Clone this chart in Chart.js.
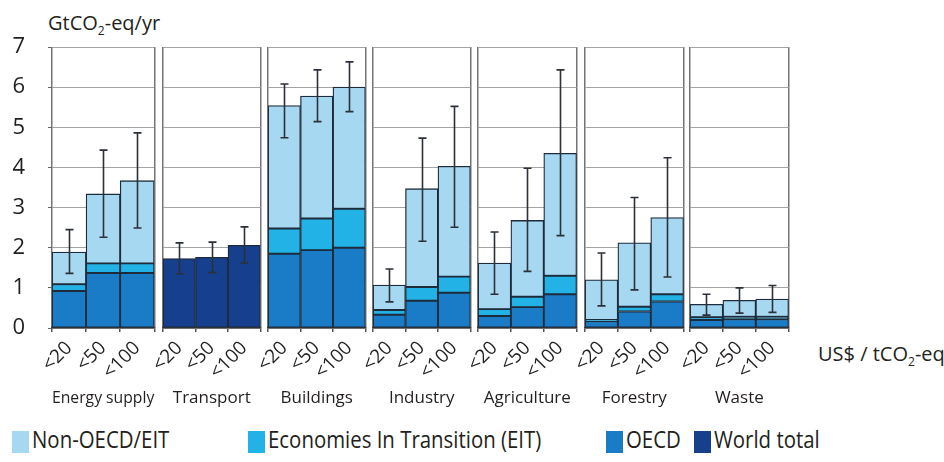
<!DOCTYPE html>
<html>
<head>
<meta charset="utf-8">
<title>Sectoral mitigation potential by carbon price</title>
<script src="https://cdn.jsdelivr.net/npm/chart.js@4.4.1/dist/chart.umd.min.js"></script>
<style>
  html, body { margin: 0; padding: 0; background: #ffffff; }
  #wrap { position: relative; width: 944px; height: 462px; overflow: hidden;
          font-family: "Open Sans", "Noto Sans", sans-serif; color: #231f20; }
  .panel { position: absolute; top: 0; }
  .unit { position: absolute; font-size: 20px; line-height: 1; white-space: nowrap; }
  .unit sub { font-size: 12px; vertical-align: -5px; line-height: 0; }
  #legend { position: absolute; left: 0; top: 430px; width: 944px; height: 32px; }
  .lg { position: absolute; top: 0; white-space: nowrap; }
  .lg i { position: absolute; left: 0; top: 1px; width: 17px; height: 22px; }
  .lg span { position: absolute; top: -5px; font-size: 24px; line-height: 1.2;
             transform-origin: 0 50%; transform: scaleX(0.85); }
</style>
</head>
<body>
<div id="wrap">
  <div class="unit" style="left:48px; top:13px;">GtCO<sub>2</sub>-eq/yr</div>
  <div class="unit" style="left:818px; top:344px;">US$ / tCO<sub>2</sub>-eq</div>
  <div id="legend"></div>
</div>
<script>
// Sectors and carbon-price bands (US$/tCO2-eq)
const sectors = ['Energy supply', 'Transport', 'Buildings', 'Industry', 'Agriculture', 'Forestry', 'Waste'];
const priceBands = ['<20', '<50', '<100'];

// Economic mitigation potential in 2030, GtCO2-eq/yr (stacked segments per region)
const oecd    = [[0.92, 1.37, 1.37], null, [1.85, 1.94, 2.00], [0.33, 0.68, 0.88], [0.30, 0.52, 0.84], [0.17, 0.41, 0.66], [0.20, 0.22, 0.22]];
const eit     = [[0.17, 0.24, 0.24], null, [0.63, 0.79, 0.97], [0.12, 0.34, 0.40], [0.17, 0.26, 0.46], [0.03, 0.12, 0.18], [0.07, 0.06, 0.06]];
const nonOecd = [[0.80, 1.73, 2.06], null, [3.06, 3.05, 3.03], [0.62, 2.45, 2.75], [1.15, 1.90, 3.05], [1.00, 1.59, 1.91], [0.32, 0.41, 0.44]];
// Transport is only available as a world total
const worldTotal = [null, [1.73, 1.76, 2.06], null, null, null, null, null];

// Uncertainty ranges (low / high) per sector and price band
const rangeLow  = [[1.36, 2.26, 2.49], [1.35, 1.38, 1.62], [4.74, 5.14, 5.39], [0.65, 2.16, 2.51], [0.84, 1.41, 2.30], [0.55, 0.95, 1.27], [0.32, 0.37, 0.39]];
const rangeHigh = [[2.45, 4.43, 4.86], [2.12, 2.14, 2.52], [6.08, 6.43, 6.63], [1.47, 4.73, 5.52], [2.39, 3.98, 6.43], [1.87, 3.25, 4.24], [0.84, 1.00, 1.06]];

// Y-axis range and ticks
const yMin = 0, yMax = 7, yStep = 1;

// Colours
const COLORS = {
  nonOecd: '#a7d8f1',
  eit: '#22b2e6',
  oecd: '#1a7bc7',
  world: '#163f8e'
};
const seriesNames = { nonOecd: 'Non-OECD/EIT', eit: 'Economies In Transition (EIT)', oecd: 'OECD', world: 'World total' };
const TEXT = '#231f20';
const GRID = '#a4a4a4';
const FRAME = '#747474';
const OUTLINE = '#1d2b3a';
const FONT = '"Open Sans", "Noto Sans", sans-serif';

// Panel geometry (pixels)
const PANEL_LEFT = [52, 163, 268, 373, 478, 585, 690];
const PANEL_W    = [103, 99, 99, 99, 100, 100, 100];
const PLOT_TOP = 47, PLOT_BOTTOM = 328, CANVAS_H = 430, XAXIS_H = 80;
const LEFT_ROOM = 30, RIGHT_ROOM = 4, Y_AXIS_W = 52;

// Draws the uncertainty whiskers on top of each stacked bar
function makeErrorBars(low, high) {
  return {
    id: 'errorBars',
    afterDatasetsDraw(chart) {
      const { ctx, scales: { x, y } } = chart;
      ctx.save();
      ctx.strokeStyle = '#2b3138';
      ctx.lineWidth = 1.6;
      low.forEach((lo, i) => {
        const px = Math.round(x.getPixelForValue(i)) + 0.5;
        const yl = y.getPixelForValue(lo);
        const yh = y.getPixelForValue(high[i]);
        ctx.beginPath();
        ctx.moveTo(px, yl); ctx.lineTo(px, yh);
        ctx.moveTo(px - 4, yl); ctx.lineTo(px + 4, yl);
        ctx.moveTo(px - 4, yh); ctx.lineTo(px + 4, yh);
        ctx.stroke();
      });
      ctx.restore();
    }
  };
}

function barDataset(label, data, color) {
  return {
    label, data,
    backgroundColor: color,
    borderColor: OUTLINE,
    borderWidth: 1.3,
    borderSkipped: false,
    barPercentage: 1,
    categoryPercentage: 1
  };
}

const wrap = document.getElementById('wrap');

sectors.forEach((sector, s) => {
  const first = s === 0;
  const left = first ? 0 : PANEL_LEFT[s] - LEFT_ROOM;
  const width = first ? Y_AXIS_W + PANEL_W[s] + RIGHT_ROOM : LEFT_ROOM + PANEL_W[s] + RIGHT_ROOM;

  const canvas = document.createElement('canvas');
  canvas.className = 'panel';
  canvas.style.left = left + 'px';
  canvas.style.width = width + 'px';
  canvas.style.height = CANVAS_H + 'px';
  canvas.width = width;
  canvas.height = CANVAS_H;
  wrap.appendChild(canvas);

  const datasets = worldTotal[s]
    ? [barDataset(seriesNames.world, worldTotal[s], COLORS.world)]
    : [barDataset(seriesNames.oecd, oecd[s], COLORS.oecd),
       barDataset(seriesNames.eit, eit[s], COLORS.eit),
       barDataset(seriesNames.nonOecd, nonOecd[s], COLORS.nonOecd)];

  new Chart(canvas, {
    type: 'bar',
    data: { labels: priceBands, datasets },
    plugins: [makeErrorBars(rangeLow[s], rangeHigh[s])],
    options: {
      responsive: false,
      animation: false,
      events: [],
      layout: {
        padding: {
          left: first ? 0 : LEFT_ROOM,
          right: RIGHT_ROOM,
          top: PLOT_TOP,
          bottom: CANVAS_H - PLOT_BOTTOM - XAXIS_H
        }
      },
      plugins: { legend: { display: false }, tooltip: { enabled: false } },
      scales: {
        x: {
          stacked: true,
          offset: true,
          grid: {
            offset: true,
            drawOnChartArea: true,
            drawTicks: true,
            tickLength: 4,
            lineWidth: 1.5,
            color: c => (c.type !== 'tick' || c.index === 0) ? FRAME : 'rgba(0,0,0,0)',
            tickColor: '#555555'
          },
          border: { display: true, color: '#3a3a3a', width: 1.5 },
          ticks: {
            autoSkip: false, minRotation: 45, maxRotation: 45, padding: 5,
            color: TEXT, font: { family: FONT, size: 19 }
          },
          title: {
            display: true, text: sector, color: TEXT,
            font: { family: FONT, size: 17 }, padding: { top: 0, bottom: 0 }
          },
          afterFit: sc => { sc.height = XAXIS_H; }
        },
        y: {
          stacked: true,
          min: yMin, max: yMax,
          grid: {
            color: GRID, lineWidth: 1,
            drawTicks: first, tickLength: 4, tickColor: '#666666'
          },
          border: { display: false },
          ticks: {
            display: first, stepSize: yStep, padding: 23,
            color: TEXT, font: { family: FONT, size: 22 }
          },
          afterFit: sc => { sc.width = first ? Y_AXIS_W : 0; }
        }
      }
    }
  });
});

// Legend
const legendItems = [
  { key: 'nonOecd', x: 12 },
  { key: 'eit', x: 248 },
  { key: 'oecd', x: 606 },
  { key: 'world', x: 694 }
];
const legend = document.getElementById('legend');
legendItems.forEach(item => {
  const el = document.createElement('div');
  el.className = 'lg';
  el.style.left = item.x + 'px';
  const box = document.createElement('i');
  box.style.background = COLORS[item.key];
  const txt = document.createElement('span');
  txt.style.left = '20px';
  txt.textContent = seriesNames[item.key];
  el.appendChild(box);
  el.appendChild(txt);
  legend.appendChild(el);
});
</script>
</body>
</html>
